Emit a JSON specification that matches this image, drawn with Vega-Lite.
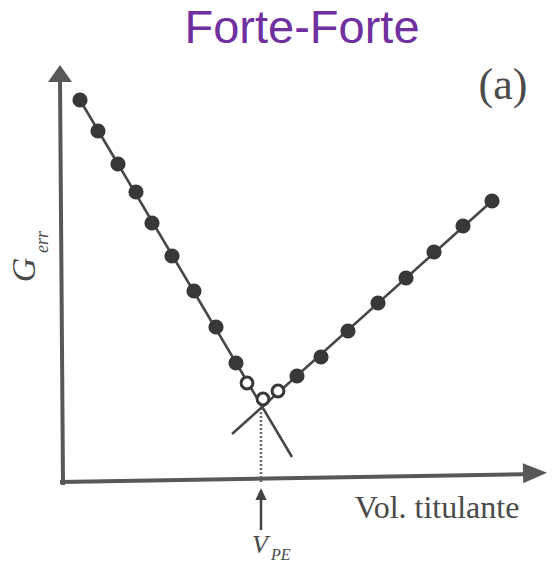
{
  "$schema": "https://vega.github.io/schema/vega-lite/v6.json",
  "width": 552,
  "height": 563,
  "padding": 0,
  "autosize": "none",
  "background": "white",
  "config": {"view": {"stroke": null}},
  "datasets": {
    "readings": [
      {"v": 0.9, "G": 19.1, "kind": "filled"},
      {"v": 1.8, "G": 17.55, "kind": "filled"},
      {"v": 2.8, "G": 15.9, "kind": "filled"},
      {"v": 3.7, "G": 14.5, "kind": "filled"},
      {"v": 4.5, "G": 12.95, "kind": "filled"},
      {"v": 5.5, "G": 11.3, "kind": "filled"},
      {"v": 6.6, "G": 9.55, "kind": "filled"},
      {"v": 7.7, "G": 7.75, "kind": "filled"},
      {"v": 8.7, "G": 5.95, "kind": "filled"},
      {"v": 9.25, "G": 4.95, "kind": "open"},
      {"v": 10.05, "G": 4.15, "kind": "open"},
      {"v": 10.8, "G": 4.55, "kind": "open"},
      {"v": 11.75, "G": 5.3, "kind": "filled"},
      {"v": 12.95, "G": 6.25, "kind": "filled"},
      {"v": 14.3, "G": 7.55, "kind": "filled"},
      {"v": 15.8, "G": 8.95, "kind": "filled"},
      {"v": 17.2, "G": 10.2, "kind": "filled"},
      {"v": 18.6, "G": 11.5, "kind": "filled"},
      {"v": 20.05, "G": 12.8, "kind": "filled"},
      {"v": 21.5, "G": 14.05, "kind": "filled"}
    ],
    "branches": [
      {"id": "before", "i": 0, "v": 0.9, "G": 19.1},
      {"id": "before", "i": 1, "v": 11.5, "G": 1.25},
      {"id": "after", "i": 0, "v": 21.5, "G": 14.05},
      {"id": "after", "i": 1, "v": 8.5, "G": 2.4}
    ],
    "axes": [
      {"id": "x", "i": 0, "v": -0.1, "G": 0},
      {"id": "x", "i": 1, "v": 23.65, "G": 0.4},
      {"id": "y", "i": 0, "v": 0.05, "G": -0.15},
      {"id": "y", "i": 1, "v": -0.1, "G": 20.2},
      {"id": "pe", "i": 0, "v": 9.95, "G": -2.4},
      {"id": "pe", "i": 1, "v": 9.95, "G": -0.7}
    ],
    "dropline": [
      {"i": 0, "v": 9.95, "G": 3.7},
      {"i": 1, "v": 9.95, "G": 0}
    ],
    "headUp": [{"v": -0.1, "G": 20.35}],
    "headRight": [{"v": 23.65, "G": 0.45}],
    "headPe": [{"v": 9.95, "G": -0.65}],
    "title": [{"v": 12.0, "G": 21.95, "label": "Forte-Forte"}],
    "panel": [{"v": 22.05, "G": 19.15, "label": "(a)"}],
    "xlabel": [{"v": 18.75, "G": -1.8, "label": "Vol. titulante"}],
    "gMain": [{"v": -1.85, "G": 10.6, "label": "G"}],
    "gSub": [{"v": -0.95, "G": 12.0, "label": "err"}],
    "vMain": [{"v": 9.9, "G": -3.55, "label": "V"}],
    "vSub": [{"v": 10.45, "G": -3.9, "label": "PE"}]
  },
  "encoding": {
    "x": {"field": "v", "type": "quantitative", "scale": {"domain": [-3.1, 24.5], "nice": false, "zero": false}, "axis": null},
    "y": {"field": "G", "type": "quantitative", "scale": {"domain": [-4.05, 24.1], "nice": false, "zero": false}, "axis": null}
  },
  "layer": [
    {
      "data": {"name": "axes"},
      "transform": [{"filter": "datum.id !== 'pe'"}],
      "mark": {"type": "line", "color": "#585858", "strokeWidth": 4, "strokeCap": "butt"},
      "encoding": {"detail": {"field": "id"}, "order": {"field": "i"}}
    },
    {
      "data": {"name": "axes"},
      "transform": [{"filter": "datum.id === 'pe'"}],
      "mark": {"type": "line", "color": "#444444", "strokeWidth": 2.5},
      "encoding": {"order": {"field": "i"}}
    },
    {
      "data": {"name": "headUp"},
      "mark": {"type": "point", "shape": "M0,-1L1.2,0.7L-1.2,0.7Z", "size": 400, "filled": true, "color": "#585858", "opacity": 1}
    },
    {
      "data": {"name": "headRight"},
      "mark": {"type": "point", "shape": "M1,0L-1,0.83L-1,-0.83Z", "size": 576, "filled": true, "color": "#585858", "opacity": 1, "angle": -1}
    },
    {
      "data": {"name": "headPe"},
      "mark": {"type": "point", "shape": "M0,-1L0.8,0.7L-0.8,0.7Z", "size": 196, "filled": true, "color": "#444444", "opacity": 1}
    },
    {
      "data": {"name": "dropline"},
      "mark": {"type": "line", "color": "#666666", "strokeWidth": 2.5, "strokeDash": [2, 2]},
      "encoding": {"order": {"field": "i"}}
    },
    {
      "data": {"name": "branches"},
      "mark": {"type": "line", "color": "#474747", "strokeWidth": 2.6},
      "encoding": {"detail": {"field": "id"}, "order": {"field": "i"}}
    },
    {
      "data": {"name": "readings"},
      "transform": [{"filter": "datum.kind === 'filled'"}],
      "mark": {"type": "point", "shape": "circle", "size": 230, "filled": true, "color": "#383838", "opacity": 1}
    },
    {
      "data": {"name": "readings"},
      "transform": [{"filter": "datum.kind === 'open'"}],
      "mark": {"type": "point", "shape": "circle", "size": 140, "filled": false, "fill": "white", "stroke": "#383838", "strokeWidth": 3, "opacity": 1}
    },
    {
      "data": {"name": "title"},
      "mark": {"type": "text", "font": "Liberation Sans", "fontSize": 47, "color": "#7030A0", "align": "center", "baseline": "alphabetic"},
      "encoding": {"text": {"field": "label"}}
    },
    {
      "data": {"name": "panel"},
      "mark": {"type": "text", "font": "Liberation Serif", "fontSize": 44, "color": "#4a4a4a", "align": "center", "baseline": "alphabetic"},
      "encoding": {"text": {"field": "label"}}
    },
    {
      "data": {"name": "xlabel"},
      "mark": {"type": "text", "font": "Liberation Serif", "fontSize": 32, "color": "#4a4a4a", "align": "center", "baseline": "alphabetic"},
      "encoding": {"text": {"field": "label"}}
    },
    {
      "data": {"name": "gMain"},
      "mark": {"type": "text", "font": "Liberation Serif", "fontStyle": "italic", "fontSize": 34, "color": "#4a4a4a", "align": "center", "baseline": "middle", "angle": 270},
      "encoding": {"text": {"field": "label"}}
    },
    {
      "data": {"name": "gSub"},
      "mark": {"type": "text", "font": "Liberation Serif", "fontStyle": "italic", "fontSize": 18, "color": "#4a4a4a", "align": "center", "baseline": "middle", "angle": 270},
      "encoding": {"text": {"field": "label"}}
    },
    {
      "data": {"name": "vMain"},
      "mark": {"type": "text", "font": "Liberation Serif", "fontStyle": "italic", "fontSize": 26, "color": "#4a4a4a", "align": "center", "baseline": "alphabetic"},
      "encoding": {"text": {"field": "label"}}
    },
    {
      "data": {"name": "vSub"},
      "mark": {"type": "text", "font": "Liberation Serif", "fontStyle": "italic", "fontSize": 16, "color": "#4a4a4a", "align": "left", "baseline": "alphabetic"},
      "encoding": {"text": {"field": "label"}}
    }
  ]
}
